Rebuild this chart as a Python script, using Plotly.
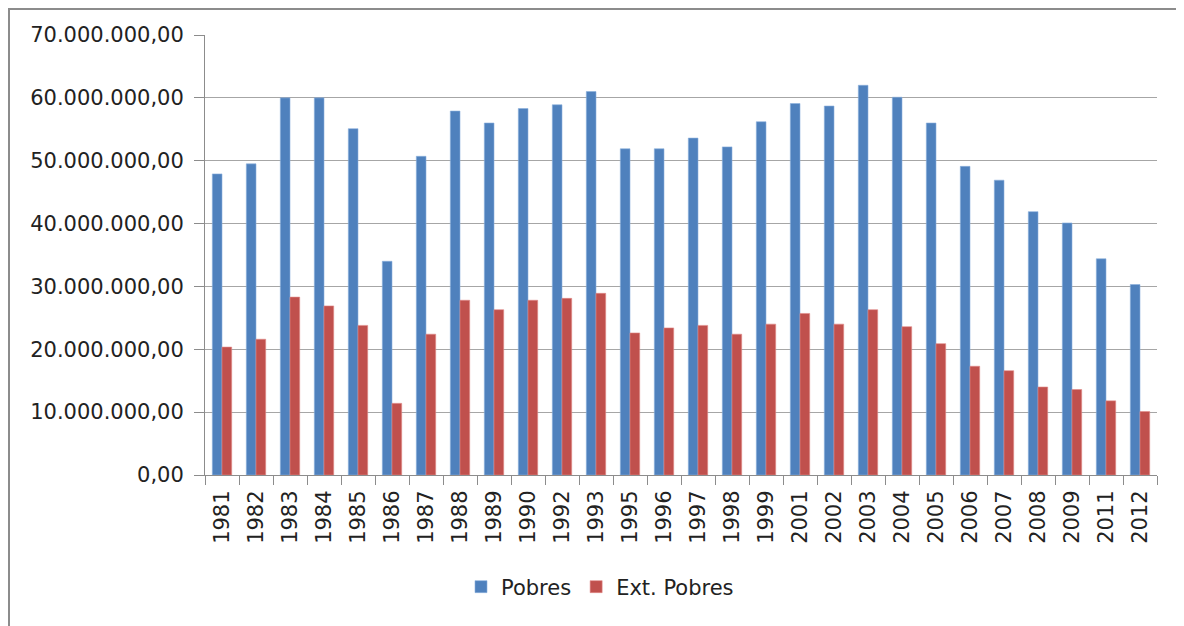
import plotly.graph_objects as go

years = ["1981", "1982", "1983", "1984", "1985", "1986", "1987", "1988", "1989", "1990",
         "1992", "1993", "1995", "1996", "1997", "1998", "1999", "2001", "2002", "2003",
         "2004", "2005", "2006", "2007", "2008", "2009", "2011", "2012"]
pobres = [47.9, 49.5, 60.0, 60.0, 55.1, 34.0, 50.7, 57.9, 56.0, 58.3,
          58.9, 61.0, 51.9, 51.9, 53.6, 52.2, 56.2, 59.1, 58.7, 62.0,
          60.1, 56.0, 49.1, 46.9, 41.9, 40.1, 34.4, 30.3]
ext_pobres = [20.35, 21.6, 28.3, 26.9, 23.8, 11.4, 22.4, 27.8, 26.3, 27.8,
              28.1, 28.9, 22.6, 23.4, 23.8, 22.4, 24.0, 25.7, 24.0, 26.3,
              23.6, 20.9, 17.3, 16.6, 14.0, 13.6, 11.8, 10.1]
pobres = [v * 1e6 for v in pobres]
ext_pobres = [v * 1e6 for v in ext_pobres]
y_ticks = [0, 10e6, 20e6, 30e6, 40e6, 50e6, 60e6, 70e6]

font_family = "'DejaVu Sans', sans-serif"

fig = go.Figure()
fig.add_trace(go.Bar(name="Pobres", x=years, y=pobres,
                     marker=dict(color="#4F81BD", line=dict(color="#8CB0DE", width=0.6))))
fig.add_trace(go.Bar(name="Ext. Pobres", x=years, y=ext_pobres,
                     marker=dict(color="#C0504D", line=dict(color="#E08A88", width=0.6))))

OFF = 8  # page body margin
W, H = 1184, 626
L = 205 - OFF
T = 35 - OFF
R = W - (1157 - OFF)
B = H - (475 - OFF)
pw, ph = W - L - R, H - T - B

def px(x):
    return (x - OFF - L) / pw

def py(y):
    return (H - B - (y - OFF)) / ph

fig.update_layout(
    width=W, height=H,
    margin=dict(l=L, r=R, t=T, b=B, autoexpand=False),
    barmode="group", bargap=0.43, bargroupgap=0,
    separators=",.",
    paper_bgcolor="white", plot_bgcolor="white",
    font=dict(family=font_family, size=21, color="#222222"),
    showlegend=True,
    legend=dict(orientation="h", xref="container", x=0.5, xanchor="center",
                y=py(587), yanchor="middle",
                font=dict(size=21), itemwidth=30, tracegroupgap=0),
    xaxis=dict(type="category", tickangle=-90, showgrid=False, automargin=False,
               showline=True, linecolor="#8c8c8c", linewidth=1,
               ticks="outside", tickson="boundaries", ticklen=9, tickcolor="#8c8c8c",
               ticklabelstandoff=6, tickfont=dict(size=21)),
    yaxis=dict(range=[0, 70e6], tickvals=y_ticks, tickformat=",.2f", automargin=False,
               showgrid=True, gridcolor="#a6a6a6", gridwidth=1,
               showline=True, linecolor="#8c8c8c", linewidth=1,
               ticks="outside", ticklen=10, tickcolor="#8c8c8c", ticklabelstandoff=6,
               zeroline=False, tickfont=dict(size=21)),
    shapes=[dict(type="rect", xref="paper", yref="paper",
                 x0=px(9), x1=px(1178), y0=py(660), y1=py(9),
                 line=dict(color="#8c8c8c", width=2), layer="below")],
)

fig.write_html("out.html")
